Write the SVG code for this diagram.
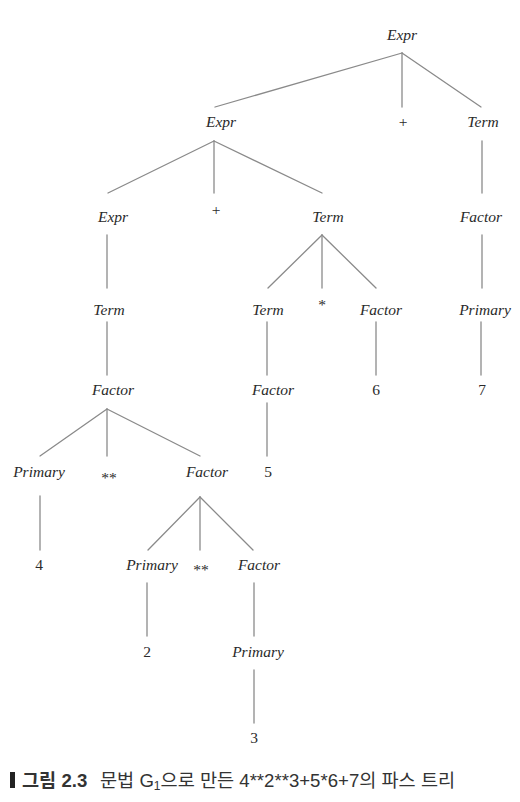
<svg xmlns="http://www.w3.org/2000/svg" width="520" height="802" viewBox="0 0 520 802">
<style>
.bg{fill:#ffffff}
.e{stroke:#8a8a8a;stroke-width:1.3;fill:none;stroke-linecap:round}
.n{font-family:"Liberation Serif","Times New Roman",serif;font-style:italic;font-size:15.5px;fill:#2a2a2a;text-anchor:middle}
.t{font-family:"Liberation Serif","Times New Roman",serif;font-size:15.5px;fill:#2a2a2a;text-anchor:middle}
.cap{font-family:"Liberation Sans","Noto Sans CJK KR",sans-serif;font-size:18.6px;fill:#333333}
.capb{font-weight:bold}
</style>
<rect class="bg" x="0" y="0" width="520" height="802"/>
<g id="connectors">
<line class="e" x1="402" y1="53" x2="215" y2="107"/>
<line class="e" x1="402" y1="53" x2="402" y2="107"/>
<line class="e" x1="402" y1="53" x2="481" y2="107"/>
<line class="e" x1="214" y1="141" x2="108" y2="193"/>
<line class="e" x1="214" y1="141" x2="214" y2="193"/>
<line class="e" x1="214" y1="141" x2="322" y2="193"/>
<line class="e" x1="482" y1="141" x2="482" y2="193"/>
<line class="e" x1="107" y1="235" x2="107" y2="288"/>
<line class="e" x1="322" y1="235" x2="268" y2="288"/>
<line class="e" x1="322" y1="235" x2="322" y2="288"/>
<line class="e" x1="322" y1="235" x2="376" y2="288"/>
<line class="e" x1="482" y1="235" x2="482" y2="288"/>
<line class="e" x1="107" y1="322" x2="107" y2="375"/>
<line class="e" x1="267" y1="322" x2="267" y2="375"/>
<line class="e" x1="376" y1="322" x2="376" y2="375"/>
<line class="e" x1="481" y1="322" x2="481" y2="375"/>
<line class="e" x1="107" y1="409" x2="40" y2="456"/>
<line class="e" x1="107" y1="409" x2="107" y2="456"/>
<line class="e" x1="107" y1="409" x2="200" y2="456"/>
<line class="e" x1="267" y1="403" x2="267" y2="456"/>
<line class="e" x1="40" y1="496" x2="40" y2="550"/>
<line class="e" x1="200" y1="497" x2="148" y2="550"/>
<line class="e" x1="200" y1="497" x2="200" y2="550"/>
<line class="e" x1="200" y1="497" x2="253" y2="550"/>
<line class="e" x1="147" y1="583" x2="147" y2="636"/>
<line class="e" x1="254" y1="583" x2="254" y2="636"/>
<line class="e" x1="254" y1="670" x2="254" y2="723"/>
</g>
<g id="n1"><text class="n" x="402" y="40">Expr</text></g>
<g id="n2"><text class="n" x="221" y="127">Expr</text></g>
<g id="n3"><text class="t" x="403" y="127">+</text></g>
<g id="n4"><text class="n" x="483" y="127">Term</text></g>
<g id="n5"><text class="n" x="113" y="222">Expr</text></g>
<g id="n6"><text class="t" x="216" y="215">+</text></g>
<g id="n7"><text class="n" x="328" y="222">Term</text></g>
<g id="n8"><text class="n" x="481" y="222">Factor</text></g>
<g id="n9"><text class="n" x="109" y="315">Term</text></g>
<g id="n10"><text class="n" x="268" y="315">Term</text></g>
<g id="n11"><text class="t" x="322" y="310">*</text></g>
<g id="n12"><text class="n" x="381" y="315">Factor</text></g>
<g id="n13"><text class="n" x="485" y="315">Primary</text></g>
<g id="n14"><text class="n" x="113" y="395">Factor</text></g>
<g id="n15"><text class="n" x="273" y="395">Factor</text></g>
<g id="n16"><text class="t" x="376" y="395">6</text></g>
<g id="n17"><text class="t" x="482" y="395">7</text></g>
<g id="n18"><text class="n" x="39" y="477">Primary</text></g>
<g id="n19"><text class="t" x="109" y="483">**</text></g>
<g id="n20"><text class="n" x="207" y="477">Factor</text></g>
<g id="n21"><text class="t" x="268" y="477">5</text></g>
<g id="n22"><text class="t" x="39" y="570">4</text></g>
<g id="n23"><text class="n" x="152" y="570">Primary</text></g>
<g id="n24"><text class="t" x="201" y="575">**</text></g>
<g id="n25"><text class="n" x="259" y="570">Factor</text></g>
<g id="n26"><text class="t" x="147" y="657">2</text></g>
<g id="n27"><text class="n" x="258" y="657">Primary</text></g>
<g id="n28"><text class="t" x="254" y="743">3</text></g>
<g id="caption">
<rect x="10" y="772" width="5" height="16" fill="#222222"/>
<text class="cap capb" x="22" y="787">그림 2.3</text>
<text class="cap" x="100" y="787">문법 G<tspan font-size="12" dy="3">1</tspan><tspan dy="-3">으로 만든 4**2**3+5*6+7의 파스 트리</tspan></text>
</g>
</svg>
